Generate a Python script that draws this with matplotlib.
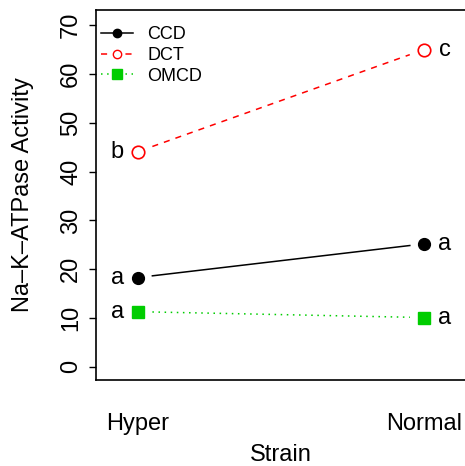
import matplotlib.pyplot as plt
import numpy as np

plt.rcParams['font.family'] = ['Liberation Sans', 'DejaVu Sans']

strain = ["Hyper", "Normal"]
ccd = [18.3, 25.2]
dct = [44.1, 65.0]
omcd = [11.3, 10.1]
ccd_lab = ["a", "a"]
dct_lab = ["b", "c"]
omcd_lab = ["a", "a"]

fig = plt.figure(figsize=(4.65, 4.66), dpi=100)
ax = fig.add_axes([0.2065, 0.1845, 0.7935, 0.794])

x = np.arange(1, len(strain) + 1)


def seg(y, **kw):
    # R type="b": lines stop short of the points
    t = np.array([0.05, 0.95])
    xs = x[0] + t * (x[1] - x[0])
    ys = y[0] + t * (y[1] - y[0])
    ax.plot(xs, ys, **kw)


seg(ccd, color="black", lw=1.1, ls="-")
seg(dct, color="red", lw=1.1, ls=(0, (4, 4)))
seg(omcd, color="#00CD00", lw=1.1, ls=(0, (1, 3)))

ax.plot(x, ccd, "o", color="black", ms=8.5, ls="none")
ax.plot(x, dct, "o", mfc="white", mec="red", mew=1.2, ms=9, ls="none")
ax.plot(x, omcd, "s", color="#00CD00", ms=8, ls="none")

for vals, labs in [(ccd, ccd_lab), (dct, dct_lab), (omcd, omcd_lab)]:
    ax.annotate(labs[0], (x[0], vals[0]), xytext=(-15, 0), textcoords="offset points",
                ha="center", va="center", fontsize=17)
    ax.annotate(labs[1], (x[1], vals[1]), xytext=(15, 0), textcoords="offset points",
                ha="center", va="center", fontsize=17)

# legend
h1, = ax.plot([], [], color="black", marker="o", ms=6, lw=1.1)
h2, = ax.plot([], [], color="red", marker="o", mfc="white", ms=6, lw=1.1, ls=(0, (4, 4)))
h3, = ax.plot([], [], color="#00CD00", marker="s", ms=7, lw=1.1, ls=(0, (1, 3)))
ax.legend([h1, h2, h3], ["CCD", "DCT", "OMCD"], loc="upper left", frameon=False,
          fontsize=13, handlelength=1.75, handletextpad=0.8, labelspacing=0.2,
          borderaxespad=0.0, bbox_to_anchor=(-0.005, 0.975), numpoints=1)

ax.set_xlim(0.853, 2.143)
ax.set_ylim(-2.7, 73.1)
ax.set_xticks(x)
ax.set_xticklabels(strain, fontsize=17)
ax.tick_params(axis="x", length=0, pad=24)
ax.set_yticks(np.arange(0, 71, 10))
ax.set_yticklabels([str(v) for v in range(0, 71, 10)], fontsize=17, rotation=90, va="center")
ax.tick_params(axis="y", length=5, width=1, pad=5)
ax.set_xlabel("Strain", fontsize=17, labelpad=6)
ax.set_ylabel("Na\u2013K\u2013ATPase Activity", fontsize=17, labelpad=19)
ax.spines["right"].set_visible(False)
for s in ["left", "top", "bottom"]:
    ax.spines[s].set_linewidth(1.2)

fig.savefig("out.png", dpi=100)
